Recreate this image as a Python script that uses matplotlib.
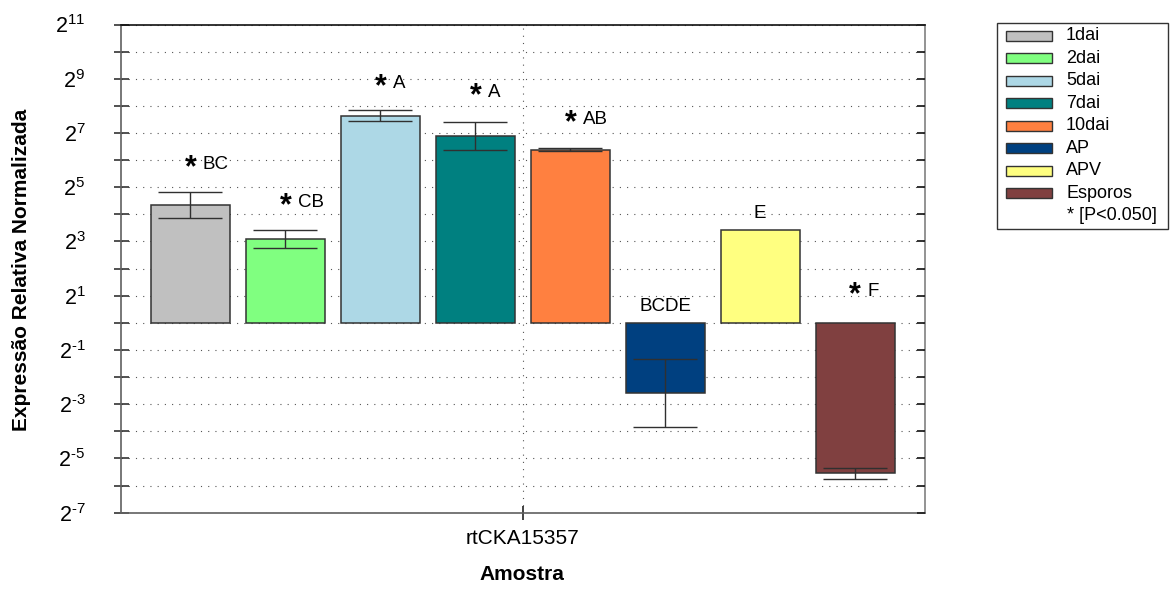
import numpy as np
import matplotlib
matplotlib.use("Agg")
import matplotlib.pyplot as plt
from matplotlib.ticker import FixedLocator, FuncFormatter, NullLocator
from matplotlib.patches import Rectangle
from matplotlib.transforms import offset_copy

plt.rcParams["font.family"] = ["Liberation Sans", "DejaVu Sans"]
plt.rcParams["mathtext.fontset"] = "custom"
plt.rcParams["mathtext.rm"] = "Liberation Sans"
plt.rcParams["mathtext.it"] = "Liberation Sans:italic"
plt.rcParams["mathtext.bf"] = "Liberation Sans:bold"

# ---- data: normalized relative expression of rtCKA15357 ----
gene = "rtCKA15357"
groups = ["1dai", "2dai", "5dai", "7dai", "10dai", "AP", "APV", "Esporos"]
expr_mean = [20.5, 8.5, 199.5, 118.6, 82.1, 0.167, 10.63, 0.0215]
expr_low = [14.7, 6.82, 173.7, 82.7, 80.5, 0.0698, np.nan, 0.0186]
expr_high = [28.2, 10.78, 228.4, 167.7, 88.0, 0.392, np.nan, 0.0247]
letters = ["BC", "CB", "A", "A", "AB", "BCDE", "E", "F"]
significant = [True, True, True, True, True, False, False, True]
colors = ["#C0C0C0", "#80FF80", "#ADD8E6", "#008080", "#FF8040",
          "#004080", "#FFFF80", "#804040"]

# letter heights (log2 units) above the bars
letter_log2 = [5.93, 4.53, 8.92, 8.59, 7.59, 0.70, 4.12, 1.25]

W, H = 1172, 590
fig = plt.figure(figsize=(W / 100, H / 100), dpi=100)
ax = fig.add_axes([120.7 / W, 1 - 512.7 / H, (925 - 120.7) / W, (512.7 - 24.5) / H])

n = len(groups)
xpos = np.arange(n) - (n - 1) / 2.0
mean = np.array(expr_mean)
ax.set_yscale("log", base=2)
ax.bar(xpos, mean - 1.0, bottom=1.0, width=0.83, color=colors,
       edgecolor="#333333", linewidth=1.1, zorder=2)

low = np.array(expr_low)
high = np.array(expr_high)
ok = ~np.isnan(low)
ax.errorbar(xpos[ok], mean[ok], yerr=[mean[ok] - low[ok], high[ok] - mean[ok]],
            fmt="none", ecolor="#303030", elinewidth=1.0, capsize=23,
            capthick=1.0, zorder=3)

# group letters and significance asterisks
for xi, lab, sig, ly in zip(xpos, letters, significant, letter_log2):
    yv = 2.0 ** ly
    if sig:
        ax.text(xi, yv, "*", ha="center", va="baseline", fontsize=22,
                fontweight="bold",
                transform=offset_copy(ax.transData, fig=fig, y=-10.0, units="points"))
        ax.text(xi + 0.13, yv, lab, ha="left", va="baseline", fontsize=13.5,
                transform=offset_copy(ax.transData, fig=fig, y=-4.8, units="points"))
    else:
        ax.text(xi, yv, lab, ha="center", va="baseline", fontsize=13.5,
                transform=offset_copy(ax.transData, fig=fig, y=-4.8, units="points"))

ax.set_ylim(2.0 ** -7, 2.0 ** 11)
ax.set_xlim(-4.235, 4.235)

exps = np.arange(-7, 12)
ax.yaxis.set_major_locator(FixedLocator(2.0 ** exps))
ax.yaxis.set_minor_locator(NullLocator())


def pow2_label(v, pos):
    e = int(round(np.log2(v)))
    if e % 2 == 0:
        return ""
    if e < 0:
        return r"$\mathregular{2^{\text{-}%d}}$" % (-e)
    return r"$\mathregular{2^{%d}}$" % e


ax.yaxis.set_major_formatter(FuncFormatter(pow2_label))
ax.tick_params(axis="y", which="major", direction="inout", length=10.8,
               width=1.1, color="#222222", labelsize=15.5, pad=20)
ax.set_xticks([0])
ax.set_xticklabels([gene])
ax.tick_params(axis="x", which="major", direction="inout", length=10,
               width=1.1, color="#111111", labelsize=15, pad=6.5)

ax.grid(True, which="major", axis="both", color="#555555",
        linestyle=(0, (1, 5.5)), linewidth=0.8)
ax.set_axisbelow(True)

# inward ticks on the right side
axr = ax.twinx()
axr.set_yscale("log", base=2)
axr.set_ylim(ax.get_ylim())
axr.yaxis.set_major_locator(FixedLocator(2.0 ** exps))
axr.yaxis.set_minor_locator(NullLocator())
axr.tick_params(axis="y", direction="in", length=6, width=1.3,
                color="#222222", labelright=False)
for s in axr.spines.values():
    s.set_visible(False)

ax.spines["top"].set_color("#111111")
ax.spines["left"].set_color("#606060")
ax.spines["bottom"].set_color("#606060")
ax.spines["right"].set_color("#808080")
for s in ax.spines.values():
    s.set_linewidth(1.2)

fig.text(22 / W, 1 - 270 / H, "Expressão Relativa Normalizada", rotation=90,
         ha="center", va="center", fontsize=15, fontweight="bold")
fig.text(522 / W, 1 - 575 / H, "Amostra", ha="center", va="center",
         fontsize=15, fontweight="bold")

# legend box
fig.add_artist(Rectangle((997 / W, 1 - 229 / H), (1168 - 997) / W, (229 - 22.7) / H,
                         transform=fig.transFigure, fill=False,
                         edgecolor="#333333", linewidth=1.0))
for i, (g, c) in enumerate(zip(groups, colors)):
    yc = 35.7 + 22.5 * i
    fig.add_artist(Rectangle((1006 / W, 1 - (yc + 5) / H), 46 / W, 10 / H,
                             transform=fig.transFigure, facecolor=c,
                             edgecolor="#333333", linewidth=1.0))
    fig.text(1066 / W, 1 - yc / H, g, ha="left", va="center", fontsize=13)
fig.text(1067 / W, 1 - 216 / H, "* [P<0.050]", ha="left", va="center",
         fontsize=13)

fig.savefig("out.png", dpi=100)
